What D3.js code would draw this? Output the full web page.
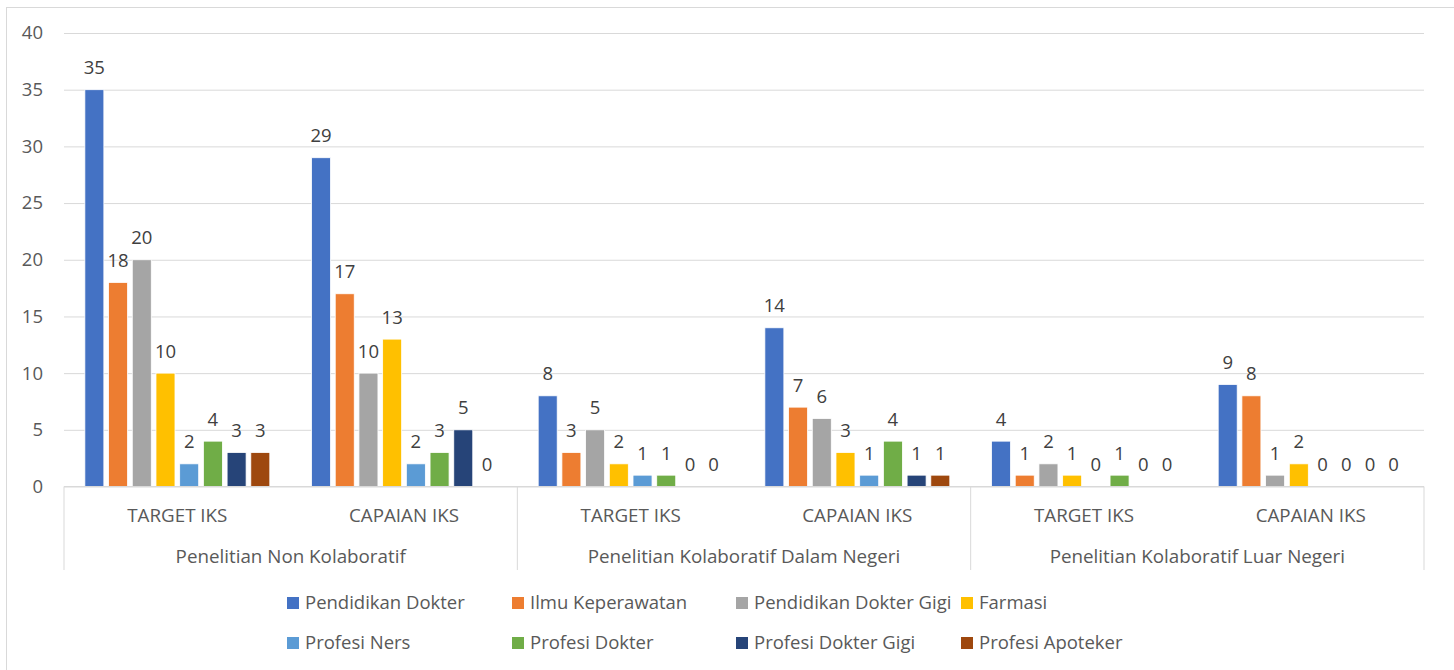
<!DOCTYPE html>
<html><head><meta charset="utf-8">
<script src="https://cdn.jsdelivr.net/npm/d3@7"></script>
<style>body{margin:0;background:#fff} svg{display:block} text{font-family:"Open Sans",sans-serif}</style>
</head><body><svg id="c" width="1454" height="670"></svg>
<script>
const groups = ["Penelitian Non Kolaboratif","Penelitian Kolaboratif Dalam Negeri","Penelitian Kolaboratif Luar Negeri"];
const subcats = ["TARGET IKS","CAPAIAN IKS"];
const seriesNames = ["Pendidikan Dokter","Ilmu Keperawatan","Pendidikan Dokter Gigi","Farmasi","Profesi Ners","Profesi Dokter","Profesi Dokter Gigi","Profesi Apoteker"];
const colors = ["#4472C4","#ED7D31","#A5A5A5","#FFC000","#5B9BD5","#70AD47","#264478","#9E480E"];
const pendidikanDokter     = [35,29,8,14,4,9];
const ilmuKeperawatan      = [18,17,3,7,1,8];
const pendidikanDokterGigi = [20,10,5,6,2,1];
const farmasi              = [10,13,2,3,1,2];
const profesiNers          = [2,2,1,1,0,0];
const profesiDokter        = [4,3,1,4,1,0];
const profesiDokterGigi    = [3,5,0,1,0,0];
const profesiApoteker      = [3,0,0,1,0,0];
const yTicks = [0,5,10,15,20,25,30,35,40];

const seriesValues = [pendidikanDokter,ilmuKeperawatan,pendidikanDokterGigi,farmasi,profesiNers,profesiDokter,profesiDokterGigi,profesiApoteker];
const cats = [];
groups.forEach((g,gi)=>subcats.forEach((s,si)=>cats.push({id:gi*2+si,group:g,sub:s})));

const svg = d3.select("#c");
const L=64, R=1424, T=33, B=486.5;
const txt="#595959", lbl="#404040", grid="#d9d9d9";
const fs="18.5px", fsCat="18.8px";

// chart border
svg.append("rect").attr("x",6.5).attr("y",7.5).attr("width",1460).attr("height",680)
  .attr("fill","none").attr("stroke",grid).attr("stroke-width",1);

const x0 = d3.scaleBand().domain(cats.map(c=>c.id)).range([L,R]).paddingInner(0.184).paddingOuter(0.092);
const x1 = d3.scaleBand().domain(d3.range(seriesNames.length)).range([0,x0.bandwidth()]).paddingInner(0.198);
const xg = d3.scaleBand().domain(groups).range([L,R]);
const xs = d3.scaleBand().domain(cats.map(c=>c.id)).range([L,R]);
const y = d3.scaleLinear().domain([0,40]).range([B,T]);

// y axis + grid
const ya = svg.append("g").attr("transform",`translate(${L},0)`)
  .call(d3.axisLeft(y).tickValues(yTicks).tickSize(-(R-L)).tickPadding(21));
ya.select(".domain").remove();
ya.selectAll("line").attr("stroke",grid).attr("stroke-width",1);
ya.selectAll("text").attr("fill",txt).style("font-size",fs).style("font-family","'Open Sans',sans-serif");

// bars
const data = [];
seriesValues.forEach((arr,si)=>arr.forEach((v,ci)=>data.push({si,ci,v})));
svg.append("g").selectAll("rect").data(data.filter(d=>d.v>0)).join("rect")
  .attr("x",d=>x0(d.ci)+x1(d.si)).attr("width",x1.bandwidth())
  .attr("y",d=>y(d.v)).attr("height",d=>y(0)-y(d.v))
  .attr("fill",d=>colors[d.si]).attr("stroke","#fff").attr("stroke-width",0.8);

// labels
svg.append("g").selectAll("text").data(data).join("text")
  .attr("x",d=>x0(d.ci)+x1(d.si)+x1.bandwidth()/2)
  .attr("y",d=>y(d.v)-22).attr("dy","0.35em")
  .attr("text-anchor","middle").attr("fill",lbl).style("font-size",fs)
  .text(d=>d.v);

// category axis
const ca = svg.append("g");
ca.append("line").attr("x1",L).attr("x2",R).attr("y1",B).attr("y2",B).attr("stroke",grid);
const bounds = groups.map(g=>xg(g)).concat([xg(groups[groups.length-1])+xg.bandwidth()]);
ca.selectAll("line.sep").data(bounds).join("line").attr("class","sep")
  .attr("x1",d=>d).attr("x2",d=>d).attr("y1",B).attr("y2",570).attr("stroke",grid);
ca.selectAll("text.sub").data(cats).join("text").attr("class","sub")
  .attr("x",d=>xs(d.id)+xs.bandwidth()/2).attr("y",515).attr("dy","0.35em")
  .attr("text-anchor","middle").attr("fill",txt).style("font-size",fsCat).text(d=>d.sub);
ca.selectAll("text.grp").data(groups).join("text").attr("class","grp")
  .attr("x",d=>xg(d)+xg.bandwidth()/2).attr("y",556).attr("dy","0.35em")
  .attr("text-anchor","middle").attr("fill",txt).style("font-size",fsCat).text(d=>d);

// legend
const colX=[287,512,736,961], rowY=[603,643];
const lg = svg.append("g").selectAll("g").data(seriesNames).join("g")
  .attr("transform",(d,i)=>`translate(${colX[i%4]},${rowY[Math.floor(i/4)]})`);
lg.append("rect").attr("x",0).attr("y",-6).attr("width",12).attr("height",12).attr("fill",(d,i)=>colors[i]);
lg.append("text").attr("x",18).attr("y",0).attr("dy","0.35em").attr("fill",txt).style("font-size",fs).text(d=>d);
</script></body></html>
